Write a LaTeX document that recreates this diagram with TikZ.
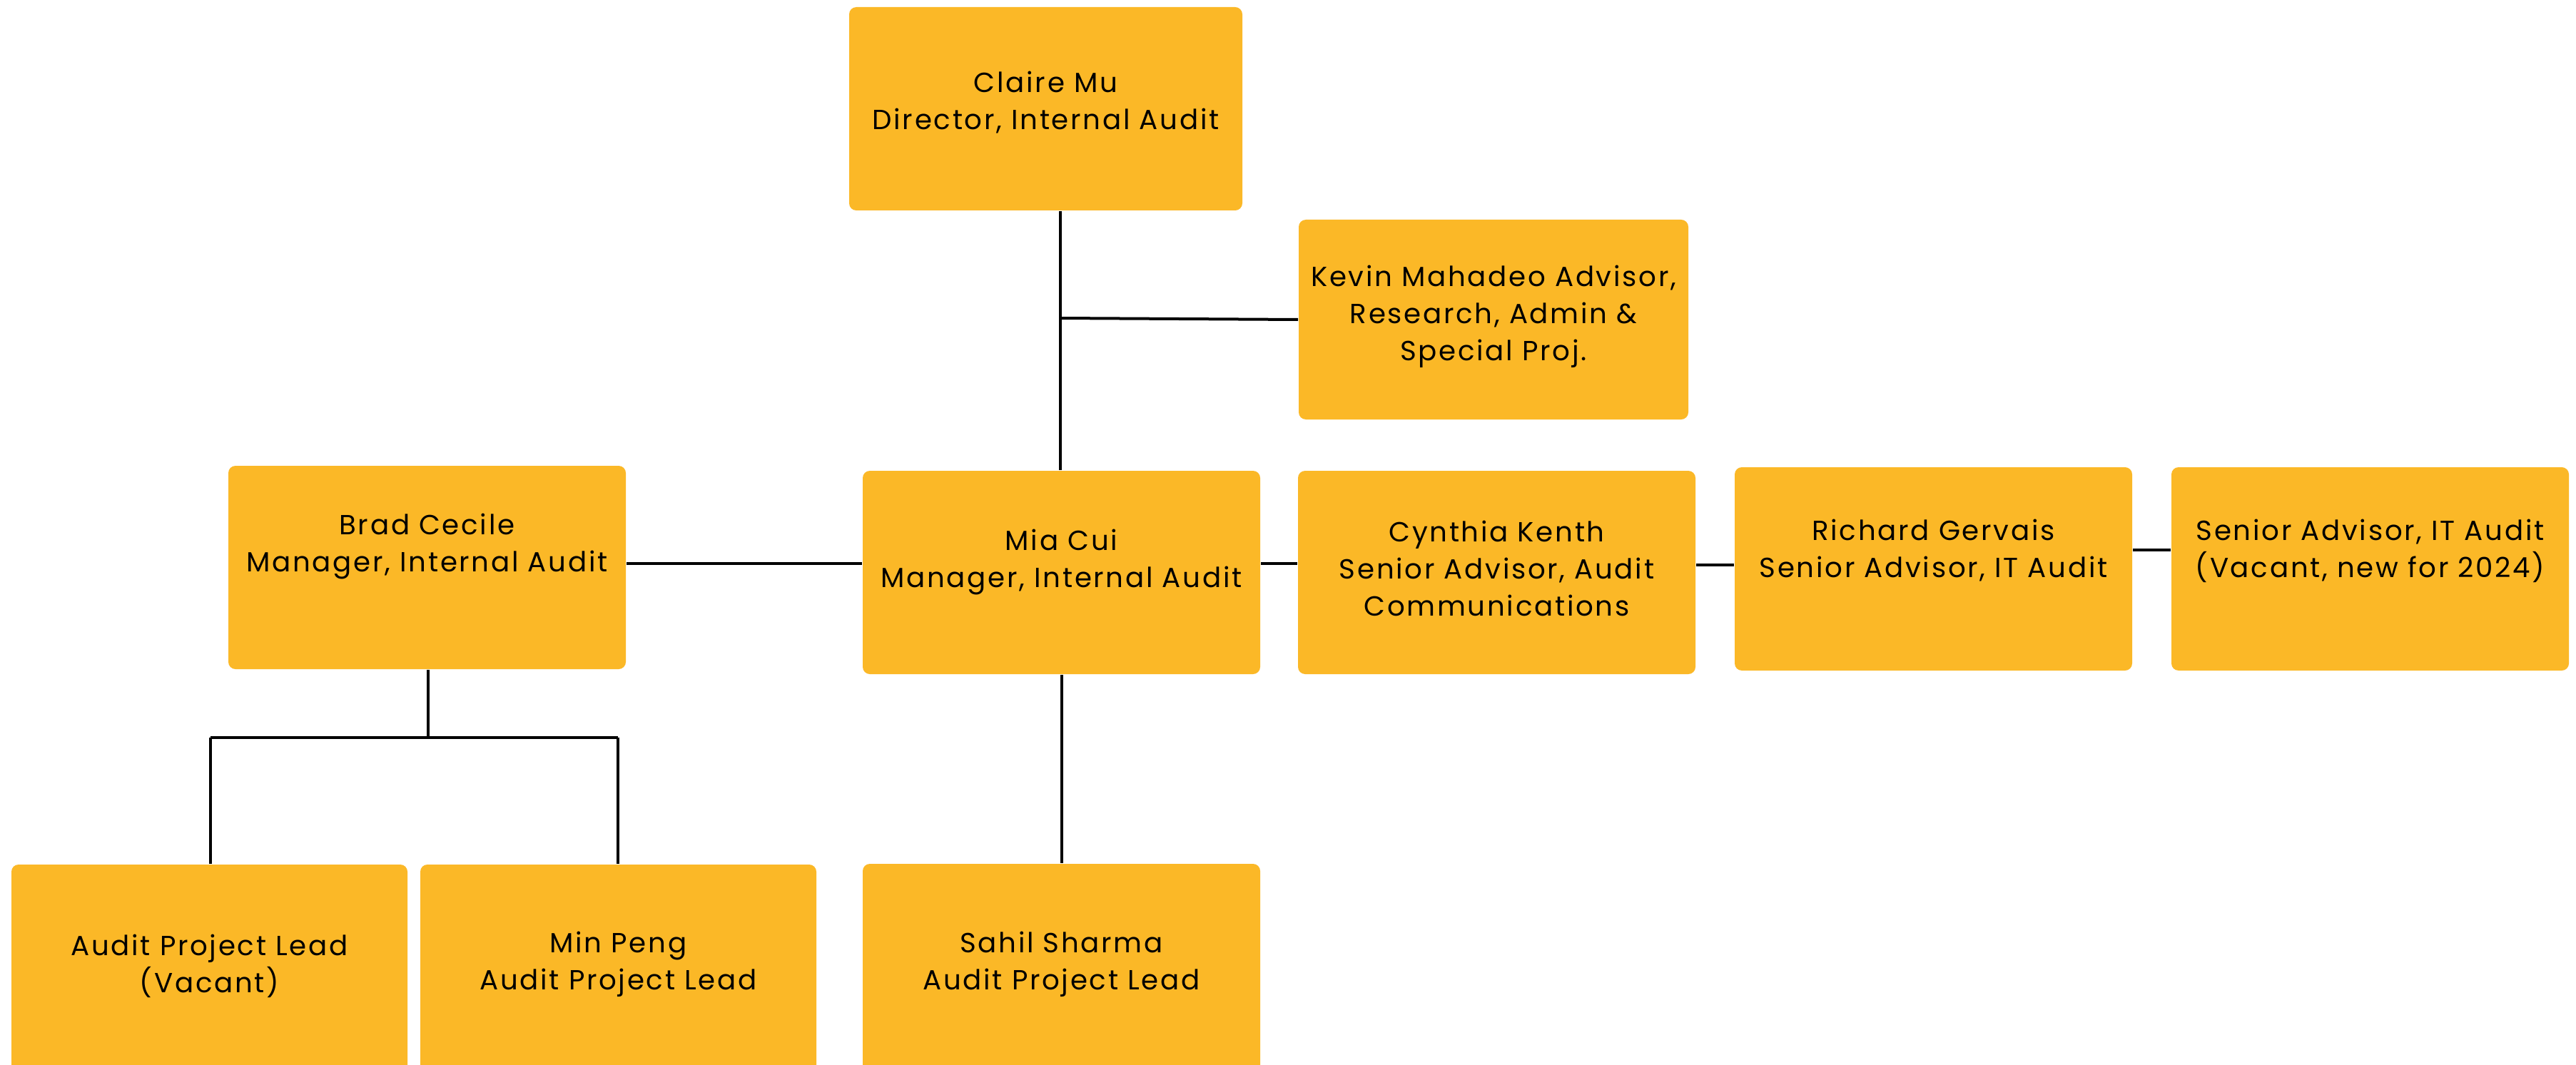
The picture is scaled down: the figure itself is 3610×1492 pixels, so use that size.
\documentclass[tikz,border=0pt]{standalone}
\usepackage{fontspec}
\setmainfont{Poppins}[LetterSpace=7]
\begin{document}
\begin{tikzpicture}[x=0.2pt,y=-0.2pt,
  box/.style={fill=boxc, rounded corners=2pt, inner sep=0pt, minimum width=#1*0.2pt, minimum height=285*0.2pt},
  box/.default=557,
  lbl/.style={align=center, font=\fontsize{7.75pt}{10.4pt}\selectfont, inner sep=0pt},
  conn/.style={line width=0.8pt, black}]
\definecolor{boxc}{RGB}{251,184,39}
\useasboundingbox (0,0) rectangle (3610,1492);
\fill[white] (0,0) rectangle (3610,1492);
% boxes
\node[box=551] (claire) at (1465.5,152.5) {};
\node[box=546, minimum height=280*0.2pt] (kevin) at (2093,448) {};
\node[box] (brad) at (598.5,795.5) {};
\node[box] (mia) at (1487.5,802.5) {};
\node[box] (cynthia) at (2097.5,802.5) {};
\node[box] (richard) at (2709.5,797.5) {};
\node[box] (seniorit) at (3321.5,797.5) {};
\node[box=555, minimum height=300*0.2pt] (apl) at (293.5,1362) {};
\node[box=555, minimum height=300*0.2pt] (minpeng) at (866.5,1362) {};
\node[box, minimum height=300*0.2pt] (sahil) at (1487.5,1361) {};
% labels
\node[lbl] (tclaire) at (1465.5,144) {Claire Mu\\Director, Internal Audit};
\node[lbl] (tkevin) at (2093,444) {Kevin Mahadeo Advisor,\\Research, Admin \&\\Special Proj.};
\node[lbl] (tbrad) at (598.5,766) {Brad Cecile\\Manager, Internal Audit};
\node[lbl] (tmia) at (1487.5,788) {Mia Cui\\Manager, Internal Audit};
\node[lbl] (tcynthia) at (2097.5,797) {Cynthia Kenth\\Senior Advisor, Audit\\Communications};
\node[lbl] (trichard) at (2709.5,772) {Richard Gervais\\Senior Advisor, IT Audit};
\node[lbl] (tseniorit) at (3321.5,772) {Senior Advisor, IT Audit\\(Vacant, new for 2024)};
\node[lbl] (tapl) at (293.5,1354) {Audit Project Lead\\(Vacant)};
\node[lbl] (tminpeng) at (866.5,1352) {Min Peng\\Audit Project Lead};
\node[lbl] (tsahil) at (1487.5,1352) {Sahil Sharma\\Audit Project Lead};
% junction coordinates
\coordinate (jk) at (1486,446);
\coordinate (jb) at (600,1034);
\coordinate (jl) at (295,1034);
\coordinate (jr) at (866,1034);
% connectors
\draw[conn] (claire.south -| jk) -- (mia.north -| jk);
\draw[conn] (jk) -- (kevin.west);
\draw[conn] (brad.east |- 0,790) -- (mia.west |- 0,790);
\draw[conn] (mia.east |- 0,790) -- (cynthia.west |- 0,790);
\draw[conn] (cynthia.east |- 0,792) -- (richard.west |- 0,792);
\draw[conn] (richard.east |- 0,771) -- (seniorit.west |- 0,771);
\draw[conn] (mia.south) -- (sahil.north);
\draw[conn] (brad.south -| jb) -- (jb);
\draw[conn] (jl) -- (jr);
\draw[conn] (jl) -- (apl.north -| jl);
\draw[conn] (jr) -- (minpeng.north -| jr);
\end{tikzpicture}
\end{document}
